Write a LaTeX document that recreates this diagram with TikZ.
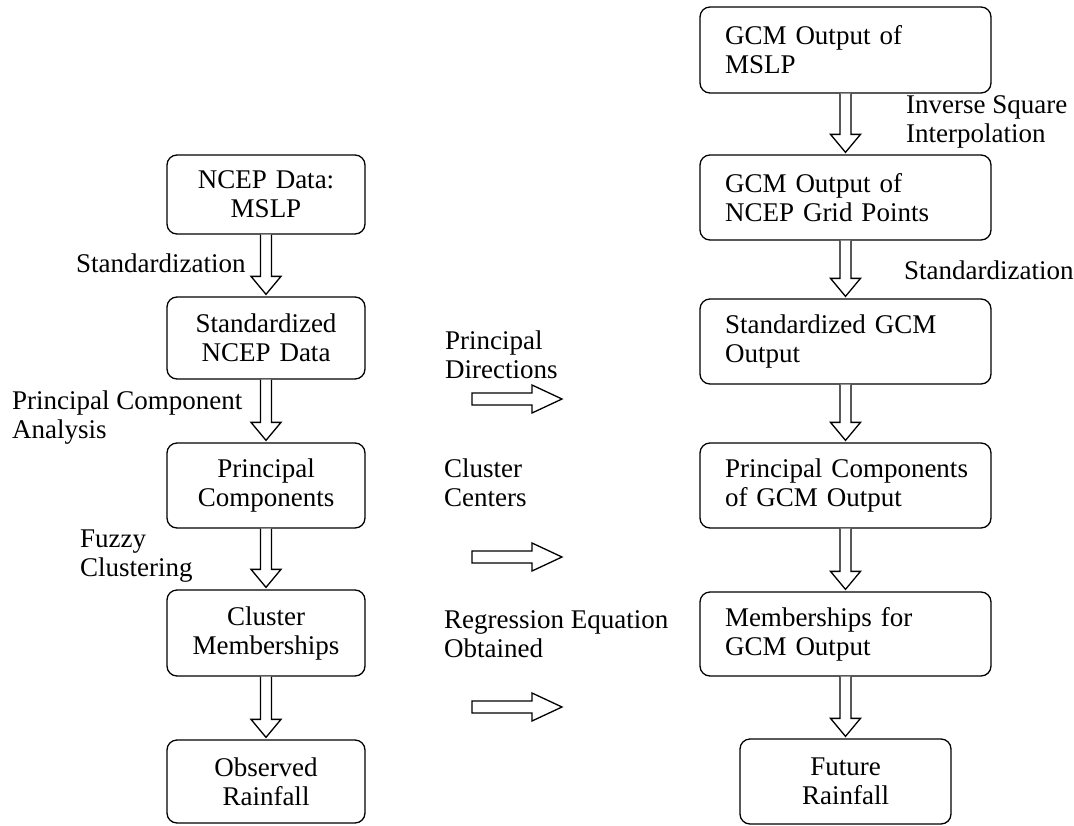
\documentclass[tikz,border=0pt]{standalone}
\usepackage{fontspec}
\setmainfont{Liberation Serif}
\usetikzlibrary{calc}
\begin{document}
\begin{tikzpicture}[x=1pt,y=-1pt,
  every node/.style={font=\fontsize{27}{29}\selectfont, inner sep=0pt},
  stagebox/.style={draw, line width=1.3pt, rounded corners=10pt, align=center},
  leftbox/.style={stagebox, minimum width=198pt, text width=180pt},
  rightbox/.style={stagebox, minimum width=291pt, text width=241pt, align=left},
  blockarrow/.style={draw, line width=1.3pt, fill=white, line join=miter},
  steplabel/.style={anchor=west, align=left}]
\useasboundingbox (0,0) rectangle (1074,825);

% observed (NCEP) branch
\node[leftbox, minimum height=79pt] (l1) at (266,194.5) {NCEP Data:\\MSLP};
\node[leftbox, minimum height=82pt] (l2) at (266,338) {Standardized\\NCEP Data};
\node[leftbox, minimum height=85pt] (l3) at (266,485.5) {Principal\\Components};
\node[leftbox, minimum height=86pt] (l4) at (266,633) {Cluster\\Memberships};
\node[leftbox, minimum height=83pt] (l5) at (266,781.5) {Observed\\Rainfall};

% GCM branch
\node[rightbox, minimum height=86pt] (r1) at (845.5,50) {GCM Output of\\MSLP};
\node[rightbox, minimum height=85pt] (r2) at (845.5,197.5) {GCM Output of\\NCEP Grid Points};
\node[rightbox, minimum height=85pt] (r3) at (845.5,341.5) {Standardized GCM\\Output};
\node[rightbox, minimum height=85pt] (r4) at (845.5,485.5) {\mbox{Principal Components}\\of GCM Output};
\node[rightbox, minimum height=84pt] (r5) at (845.5,634) {Memberships for\\GCM Output};
\node[leftbox, minimum width=211pt, text width=190pt, minimum height=85pt] (r6) at (845.5,781.5) {Future\\Rainfall};

% hollow vertical block arrow from one box to the next
\newcommand\vflow[2]{%
  \draw[blockarrow]
    ($(#1.south)+(-5.5,0)$) -- ($(#1.south|-#2.north)+(-5.5,-20)$)
    -- ($(#1.south|-#2.north)+(-15,-20)$) -- ($(#1.south|-#2.north)+(0,-2)$)
    -- ($(#1.south|-#2.north)+(15,-20)$) -- ($(#1.south|-#2.north)+(5.5,-20)$)
    -- ($(#1.south)+(5.5,0)$);}
% hollow horizontal block arrow between two coordinates
\newcommand\hflow[2]{%
  \draw[blockarrow]
    ($(#1)+(0,-6)$) -- ($(#2)+(-30,-6)$) -- ($(#2)+(-30,-14)$) -- (#2)
    -- ($(#2)+(-30,14)$) -- ($(#2)+(-30,6)$) -- ($(#1)+(0,6)$) -- cycle;}

\vflow{l1}{l2}
\vflow{l2}{l3}
\vflow{l3}{l4}
\vflow{l4}{l5}
\vflow{r1}{r2}
\vflow{r2}{r3}
\vflow{r3}{r4}
\vflow{r4}{r5}
\vflow{r5}{r6}

% links carried across from the NCEP branch
\coordinate (d0) at (472,399);  \coordinate (d1) at (562,399);
\coordinate (c0) at (472,557);  \coordinate (c1) at (562,557);
\coordinate (g0) at (472,707);  \coordinate (g1) at (562,707);
\hflow{d0}{d1}
\hflow{c0}{c1}
\hflow{g0}{g1}

% step labels
\node[steplabel] (t1) at (76,263) {Standardization};
\node[steplabel] (t2) at (12,418) {Principal Component\\Analysis};
\node[steplabel] (t3) at (80,556) {Fuzzy\\Clustering};
\node[steplabel] (t4) at (445,355) {Principal\\Directions};
\node[steplabel] (t5) at (444,483) {Cluster\\Centers};
\node[steplabel] (t6) at (444,634) {Regression Equation\\Obtained};
\node[steplabel] (t7) at (906,122) {Inverse Square\\Interpolation};
\node[steplabel] (t8) at (904,270) {Standardization};
\end{tikzpicture}
\end{document}
